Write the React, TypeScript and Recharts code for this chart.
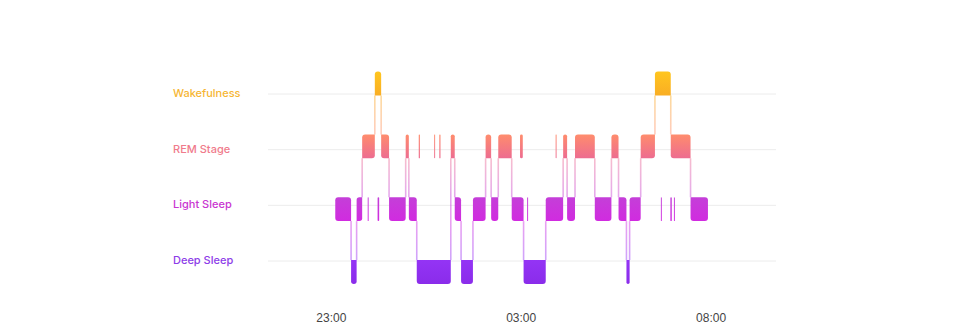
import React from "react";
import {
  ComposedChart,
  XAxis,
  YAxis,
  CartesianGrid,
  ReferenceArea,
  ReferenceLine,
} from "recharts";

type Stage = "deep" | "light" | "rem" | "wake";

// bottom to top
const STAGES: Stage[] = ["deep", "light", "rem", "wake"];
const STAGE_LABELS = ["Deep Sleep", "Light Sleep", "REM Stage", "Wakefulness"];
const STAGE_COLORS = ["#8d3de8", "#c935d1", "#f07b8c", "#f6b634"];
const LEVELS = [0, 1, 2, 3];

// minutes after the 23:00 mark; episode i runs from BOUNDS[i] to BOUNDS[i + 1]
const EPISODE_BOUNDS = [
  5, 25, 32, 39, 55, 63, 73, 94, 98, 108, 151, 156, 164, 179, 195, 202, 211,
  228, 243, 271, 293, 298, 308, 333, 354, 363, 373, 377, 391, 409, 429, 454, 476,
];
const EPISODE_STAGES: Stage[] = [
  "light", "deep", "light", "rem", "wake", "rem", "light", "rem", "light",
  "deep", "rem", "light", "deep", "light", "rem", "light", "rem", "light",
  "deep", "light", "rem", "light", "rem", "light", "rem", "light", "deep",
  "light", "rem", "wake", "rem", "light",
];

// very short episodes drawn as slivers, not joined to the hypnogram path
const BLIP_STARTS = [46, 58.5, 110.5, 130, 136.5, 238.5, 247.5, 283.5, 416.5, 428.5, 433];
const BLIP_ENDS = [47.2, 60.5, 112, 131.2, 138, 242, 248.7, 284.7, 417.7, 430.3, 434.2];
const BLIP_STAGES: Stage[] = [
  "light", "light", "rem", "rem", "rem", "rem", "light", "rem", "light", "light", "light",
];

const TICK_VALUES = [0, 240, 480];
const TICK_LABELS = ["23:00", "03:00", "08:00"];

const WIDTH = 960;
const HEIGHT = 329;
const HALF = 0.19; // half block height, in stage units
const LABEL_X = 173;
const RADIUS = 3;

const episodes = EPISODE_STAGES.map((stage, i) => ({
  level: STAGES.indexOf(stage),
  start: EPISODE_BOUNDS[i],
  end: EPISODE_BOUNDS[i + 1],
}));

const blips = BLIP_STAGES.map((stage, i) => ({
  level: STAGES.indexOf(stage),
  start: BLIP_STARTS[i],
  end: BLIP_ENDS[i],
}));

const transitions = episodes.slice(1).map((e, i) => ({
  at: e.start,
  lo: Math.min(e.level, episodes[i].level) + HALF,
  hi: Math.max(e.level, episodes[i].level) - HALF,
}));

// corners that meet a connector stay square: [topLeft, topRight, bottomRight, bottomLeft]
const cornerFlags = (i: number) => {
  const cur = episodes[i].level;
  const prev = i > 0 ? episodes[i - 1].level : cur;
  const next = i < episodes.length - 1 ? episodes[i + 1].level : cur;
  return [prev > cur, next > cur, next < cur, prev < cur];
};

const roundedPath = (x: number, y: number, w: number, h: number, square: boolean[]) => {
  const r = Math.min(RADIUS, w / 2, h / 2);
  const [tl, tr, br, bl] = square.map((s) => (s ? 0 : r));
  return [
    `M${x + tl},${y}`,
    `H${x + w - tr}`,
    `Q${x + w},${y} ${x + w},${y + tr}`,
    `V${y + h - br}`,
    `Q${x + w},${y + h} ${x + w - br},${y + h}`,
    `H${x + bl}`,
    `Q${x},${y + h} ${x},${y + h - bl}`,
    `V${y + tl}`,
    `Q${x},${y} ${x + tl},${y}`,
    "Z",
  ].join(" ");
};

const makeBlock = (square: boolean[]) => (p: any) => (
  <path d={roundedPath(p.x, p.y, p.width, p.height, square)} fill="url(#stageFill)" />
);

const NO_SQUARE = [false, false, false, false];

const StageTick = (p: any) => {
  const i = p.payload.value;
  return (
    <text
      x={LABEL_X}
      y={p.y}
      dy={-1}
      dominantBaseline="central"
      textAnchor="start"
      fill={STAGE_COLORS[i]}
      fontSize={11}
      fontWeight={500}
      fontFamily="Inter, 'Noto Sans', sans-serif"
    >
      {STAGE_LABELS[i]}
    </text>
  );
};

export default function App() {
  return (
    <div style={{ width: WIDTH, height: HEIGHT, background: "#fff" }}>
      <style>{"body{margin:0}"}</style>
      <ComposedChart
        width={WIDTH}
        height={HEIGHT}
        data={episodes}
        margin={{ top: 60, right: 184, bottom: 0, left: 173 }}
      >
        <defs>
          <linearGradient
            id="stageFill"
            x1="0"
            y1="0"
            x2="0"
            y2={HEIGHT}
            gradientUnits="userSpaceOnUse"
          >
            <stop offset={0.219} stopColor="#ffc51f" />
            <stop offset={0.289} stopColor="#f9ae24" />
            <stop offset={0.407} stopColor="#ff8d6c" />
            <stop offset={0.477} stopColor="#ee6e8e" />
            <stop offset={0.599} stopColor="#c43fd8" />
            <stop offset={0.672} stopColor="#d12be0" />
            <stop offset={0.79} stopColor="#9434f5" />
            <stop offset={0.863} stopColor="#8a2cea" />
          </linearGradient>
        </defs>
        <CartesianGrid
          yAxisId="label"
          vertical={false}
          horizontalValues={LEVELS}
          stroke="#ececec"
          strokeWidth={1}
        />
        <XAxis
          type="number"
          dataKey="start"
          domain={[-80, 562]}
          allowDataOverflow
          ticks={TICK_VALUES}
          tickFormatter={(v: number) => TICK_LABELS[TICK_VALUES.indexOf(v)]}
          axisLine={false}
          tickLine={false}
          tickMargin={7}
          height={29}
          tick={{ fill: "#444", fontSize: 12, fontFamily: "'Liberation Sans', Arial, sans-serif" }}
        />
        <YAxis
          yAxisId="label"
          type="number"
          domain={[-0.7006, 3.611]}
          allowDataOverflow
          ticks={LEVELS}
          axisLine={false}
          tickLine={false}
          width={95}
          tick={<StageTick />}
        />
        <YAxis
          yAxisId="stage"
          type="number"
          domain={[-0.4457, 3.374]}
          allowDataOverflow
          hide
        />
        {transitions.map((t, i) => (
          <ReferenceLine
            key={`t${i}`}
            yAxisId="stage"
            segment={[
              { x: t.at, y: t.lo },
              { x: t.at, y: t.hi },
            ]}
            stroke="url(#stageFill)"
            strokeOpacity={0.45}
            strokeWidth={1.6}
          />
        ))}
        {episodes.map((e, i) => (
          <ReferenceArea
            key={`e${i}`}
            yAxisId="stage"
            x1={e.start}
            x2={e.end}
            y1={e.level - HALF}
            y2={e.level + HALF}
            shape={makeBlock(cornerFlags(i))}
          />
        ))}
        {blips.map((b, i) => (
          <ReferenceArea
            key={`b${i}`}
            yAxisId="stage"
            x1={b.start}
            x2={b.end}
            y1={b.level - HALF}
            y2={b.level + HALF}
            shape={makeBlock(NO_SQUARE)}
          />
        ))}
      </ComposedChart>
    </div>
  );
}
